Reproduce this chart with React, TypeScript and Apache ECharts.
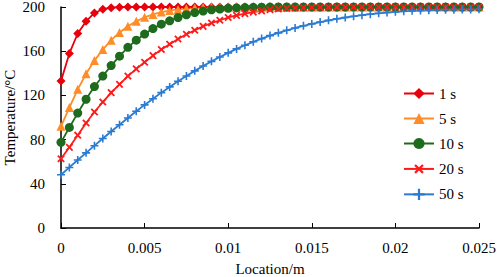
import React, { useEffect, useRef } from "react";
import * as echarts from "echarts";

const locations = [
  0, 0.0005, 0.001, 0.0015, 0.002, 0.0025, 0.003, 0.0035, 0.004, 0.0045,
  0.005, 0.0055, 0.006, 0.0065, 0.007, 0.0075, 0.008, 0.0085, 0.009, 0.0095,
  0.01, 0.0105, 0.011, 0.0115, 0.012, 0.0125, 0.013, 0.0135, 0.014, 0.0145,
  0.015, 0.0155, 0.016, 0.0165, 0.017, 0.0175, 0.018, 0.0185, 0.019, 0.0195,
  0.02, 0.0205, 0.021, 0.0215, 0.022, 0.0225, 0.023, 0.0235, 0.024, 0.0245,
  0.025,
];

const t1s = [
  133, 158, 176, 187, 194.6, 198, 199.4, 199.8, 200, 200,
  200, 200, 200, 200, 200, 200, 200, 200, 200, 200,
  200, 200, 200, 200, 200, 200, 200, 200, 200, 200,
  200, 200, 200, 200, 200, 200, 200, 200, 200, 200,
  200, 200, 200, 200, 200, 200, 200, 200, 200, 200,
  200,
];

const t5s = [
  92, 109, 125.5, 139.5, 151.5, 161.5, 170, 177, 182.5, 187,
  190.7, 193.3, 195.4, 196.8, 197.8, 198.6, 199.1, 199.5, 199.7, 199.85,
  199.9, 200, 200, 200, 200, 200, 200, 200, 200, 200,
  200, 200, 200, 200, 200, 200, 200, 200, 200, 200,
  200, 200, 200, 200, 200, 200, 200, 200, 200, 200,
  200,
];

const t10s = [
  77.5, 91, 104, 116.5, 128, 137.5, 147, 155.5, 163.5, 170,
  175.5, 180.5, 184.5, 187.5, 190.5, 193, 195, 196.3, 197.4, 198.2,
  198.8, 199.2, 199.5, 199.7, 199.8, 199.9, 200, 200, 200, 200,
  200, 200, 200, 200, 200, 200, 200, 200, 200, 200,
  200, 200, 200, 200, 200, 200, 200, 200, 200, 200,
  200,
];

const t20s = [
  62.7, 73, 84, 95, 105, 114, 122.5, 130, 137.5, 144,
  150, 156, 161.5, 166.3, 171, 175.3, 179, 182.5, 185.5, 188,
  190.5, 192.4, 194, 195.4, 196.5, 197.6, 198.3, 198.8, 199.1, 199.4,
  199.6, 199.7, 199.8, 199.9, 200, 200, 200, 200, 200, 200,
  200, 200, 200, 200, 200, 200, 200, 200, 200, 200,
  200,
];

const t50s = [
  48.2, 54.8, 61.5, 68, 74.5, 81, 87.3, 93.5, 99.6, 105.6,
  111.4, 117, 122.5, 127.7, 132.8, 137.6, 142.2, 146.6, 150.8, 154.8,
  158.5, 162.1, 165.4, 168.5, 171.4, 174.1, 176.6, 178.9, 181, 183,
  184.7, 186.4, 187.9, 189.3, 190.5, 191.6, 192.6, 193.5, 194.3, 195,
  195.6, 196.1, 196.5, 196.8, 197.1, 197.3, 197.5, 197.6, 197.7, 197.8,
  197.9,
];

const seriesNames = ["1 s", "5 s", "10 s", "20 s", "50 s"];
const xTicks = [0, 0.005, 0.01, 0.015, 0.02, 0.025];

const PLUS = "path://M4,0h2v4h4v2h-4v4h-2v-4h-4v-2h4z";
const FONT = "Liberation Serif";

export default function App() {
  const ref = useRef<HTMLDivElement>(null);
  useEffect(() => {
    if (!ref.current) return;
    const chart = echarts.init(ref.current, undefined, { renderer: "svg" });
    const mk = (vals: number[]) => vals.map((v, i) => [locations[i], v]);
    const styles = [
      { color: "#E8000C", symbol: "diamond", size: 9, rotate: 0 },
      { color: "#FF8C26", symbol: "triangle", size: 9, rotate: 0 },
      { color: "#1E6B1E", symbol: "circle", size: 9, rotate: 0 },
      { color: "#FF1A1A", symbol: PLUS, size: 9, rotate: 45 },
      { color: "#2B7BD3", symbol: PLUS, size: 8, rotate: 0 },
    ];
    const data = [t1s, t5s, t10s, t20s, t50s];
    chart.setOption({
      animation: false,
      textStyle: { fontFamily: FONT },
      grid: { left: 61, right: 19, top: 7, bottom: 49, containLabel: false, outerBoundsMode: "none" },
      legend: {
        orient: "vertical",
        left: 398,
        top: 81,
        itemWidth: 30,
        itemHeight: 14,
        itemGap: 10,
        textStyle: { fontFamily: FONT, fontSize: 15, color: "#000" },
        data: seriesNames,
      },
      xAxis: {
        type: "value",
        min: 0,
        max: 0.025,
        interval: 0.005,
        name: "Location/m",
        nameLocation: "middle",
        nameGap: 33,
        nameTextStyle: { fontFamily: FONT, fontSize: 15, color: "#000" },
        axisLine: { lineStyle: { color: "#000", width: 1.5 } },
        axisTick: { inside: true, length: 5, lineStyle: { color: "#000" } },
        axisLabel: {
          fontFamily: FONT,
          fontSize: 15,
          color: "#000",
          margin: 12,
          formatter: (v: number) => {
            const t = xTicks.find((x) => Math.abs(x - v) < 1e-9);
            return t === undefined ? "" : String(t);
          },
        },
        splitLine: { show: false },
      },
      yAxis: {
        type: "value",
        min: 0,
        max: 200,
        interval: 40,
        name: "Temperature/°C",
        nameLocation: "middle",
        nameGap: 44,
        nameMoveOverlap: false,
        nameTextStyle: { fontFamily: FONT, fontSize: 15, color: "#000" },
        axisLine: { show: true, lineStyle: { color: "#000", width: 1.5 } },
        axisTick: { show: true, inside: true, length: 5, lineStyle: { color: "#000" } },
        axisLabel: { fontFamily: FONT, fontSize: 15, color: "#000", margin: 16 },
        splitLine: { show: false },
      },
      series: data.map((vals, i) => ({
        name: seriesNames[i],
        type: "line",
        data: mk(vals),
        symbol: styles[i].symbol,
        symbolSize: styles[i].size,
        symbolRotate: styles[i].rotate,
        showAllSymbol: true,
        lineStyle: { color: styles[i].color, width: 1.8 },
        itemStyle: { color: styles[i].color },
      })),
    });
    return () => chart.dispose();
  }, []);
  return (
    <div
      ref={ref}
      style={{ position: "fixed", left: 0, top: 0, width: 498, height: 277, background: "#fff" }}
    />
  );
}
